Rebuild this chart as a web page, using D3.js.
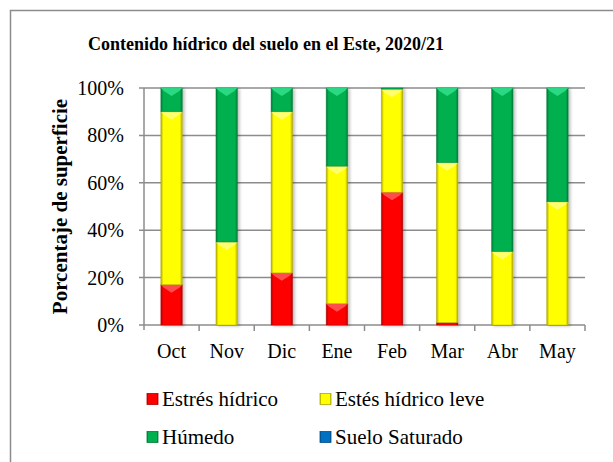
<!DOCTYPE html>
<html>
<head>
<meta charset="utf-8">
<script src="https://cdn.jsdelivr.net/npm/d3@7"></script>
<style>
  html, body { margin: 0; padding: 0; background: #fff; overflow: hidden; }
  svg { display: block; }
  text { font-family: "Liberation Serif", "Times New Roman", serif; fill: #000; }
</style>
</head>
<body>
<div id="chart"></div>
<script>
// data (percent of surface)
const months = ["Oct", "Nov", "Dic", "Ene", "Feb", "Mar", "Abr", "May"];
const estres = [17, 0, 22, 9, 56, 1, 0, 0];
const estresLeve = [73, 35, 68, 58, 43.5, 67.5, 31, 52];
const humedo = [10, 65, 10, 33, 0.5, 31.5, 69, 48];
const saturado = [0, 0, 0, 0, 0, 0, 0, 0];
const yTicks = [0, 20, 40, 60, 80, 100];

const seriesNames = ["Estrés hídrico", "Estés hídrico leve", "Húmedo", "Suelo Saturado"];
const seriesColors = ["#ff0000", "#ffff00", "#00b050", "#0070c0"];
const seriesLight = ["#ff5a5a", "#ffff80", "#33e08a", "#3fa0e8"];
const seriesDark = ["#b00000", "#b0a800", "#007a38", "#004f88"];

const width = 613, height = 462;
const margin = { top: 88, bottom: 137, left: 144, right: 28 };

const svg = d3.select("#chart").append("svg")
  .attr("width", width)
  .attr("height", height)
  .attr("font-family", "Liberation Serif, Times New Roman, serif");

// outer frame (right and bottom edges fall outside the picture)
svg.append("path")
  .attr("d", `M10.5,${height}V10.5H${width}`)
  .attr("fill", "none")
  .attr("stroke", "#8c8c8c")
  .attr("stroke-width", 1.5);

svg.append("text")
  .attr("x", 266).attr("y", 50)
  .attr("text-anchor", "middle")
  .attr("font-size", 18)
  .attr("font-weight", "bold")
  .text("Contenido hídrico del suelo en el Este, 2020/21");

const rows = months.map((m, i) => ({
  month: m,
  s0: estres[i], s1: estresLeve[i], s2: humedo[i], s3: saturado[i]
}));
const stacked = d3.stack().keys(["s0", "s1", "s2", "s3"])(rows);

const xScale = d3.scaleBand()
  .domain(months)
  .range([margin.left, width - margin.right])
  .paddingInner(0.61)
  .paddingOuter(0.305);

const yScale = d3.scaleLinear()
  .domain([0, 100])
  .range([height - margin.bottom, margin.top]);

// grid
svg.append("g")
  .selectAll("line")
  .data(yTicks)
  .join("line")
  .attr("x1", margin.left - 5)
  .attr("x2", width - margin.right)
  .attr("y1", d => yScale(d))
  .attr("y2", d => yScale(d))
  .attr("stroke", "#8c8c8c")
  .attr("stroke-width", 1.5);

// y axis line
svg.append("line")
  .attr("x1", margin.left).attr("x2", margin.left)
  .attr("y1", margin.top).attr("y2", yScale(0) + 5)
  .attr("stroke", "#8c8c8c").attr("stroke-width", 1.5);

// x ticks at category boundaries
const step = xScale.step();
const bounds = d3.range(months.length + 1).map(i => margin.left + i * step);
svg.append("g")
  .selectAll("line")
  .data(bounds.slice(1))
  .join("line")
  .attr("x1", d => d).attr("x2", d => d)
  .attr("y1", yScale(0)).attr("y2", yScale(0) + 6)
  .attr("stroke", "#8c8c8c").attr("stroke-width", 1.5);

// y tick labels
svg.append("g")
  .selectAll("text")
  .data(yTicks)
  .join("text")
  .attr("x", margin.left - 20)
  .attr("y", d => yScale(d) + 7)
  .attr("text-anchor", "end")
  .attr("font-size", 20)
  .text(d => d + "%");

// x labels
svg.append("g")
  .selectAll("text")
  .data(months)
  .join("text")
  .attr("x", d => xScale(d) + xScale.bandwidth() / 2)
  .attr("y", 358)
  .attr("text-anchor", "middle")
  .attr("font-size", 20)
  .text(d => d);

svg.append("text")
  .attr("transform", `translate(67,${(margin.top + yScale(0)) / 2}) rotate(-90)`)
  .attr("text-anchor", "middle")
  .attr("font-size", 21)
  .attr("font-weight", "bold")
  .text("Porcentaje de superficie");

// gradients for bars
const defs = svg.append("defs");
seriesColors.forEach((c, i) => {
  const g = defs.append("linearGradient").attr("id", "g" + i)
    .attr("x1", 0).attr("x2", 1).attr("y1", 0).attr("y2", 0);
  g.append("stop").attr("offset", "0%").attr("stop-color", seriesDark[i]);
  g.append("stop").attr("offset", "12%").attr("stop-color", c);
  g.append("stop").attr("offset", "88%").attr("stop-color", c);
  g.append("stop").attr("offset", "100%").attr("stop-color", seriesDark[i]);
});
const shadow = defs.append("filter").attr("id", "shadow")
  .attr("x", "-30%").attr("y", "-10%").attr("width", "160%").attr("height", "120%");
shadow.append("feDropShadow").attr("dx", 2).attr("dy", 1)
  .attr("stdDeviation", 1.5).attr("flood-color", "#000").attr("flood-opacity", 0.25);

// bars
const bw = xScale.bandwidth();
const layers = svg.append("g").attr("filter", "url(#shadow)")
  .selectAll("g")
  .data(stacked)
  .join("g");

layers.each(function (layer, li) {
  const g = d3.select(this);
  const segs = layer.filter(d => d[1] - d[0] > 0);
  g.selectAll("rect")
    .data(segs)
    .join("rect")
    .attr("x", d => xScale(d.data.month))
    .attr("y", d => yScale(d[1]))
    .attr("width", bw)
    .attr("height", d => yScale(d[0]) - yScale(d[1]))
    .attr("fill", `url(#g${li})`)
    .attr("stroke", seriesDark[li])
    .attr("stroke-opacity", 0.5)
    .attr("stroke-width", 0.8);
  // bevel highlight on top
  g.selectAll("path")
    .data(segs.filter(d => yScale(d[0]) - yScale(d[1]) > 6))
    .join("path")
    .attr("d", d => {
      const x0 = xScale(d.data.month), x1 = x0 + bw, y0 = yScale(d[1]);
      const xc = x0 + bw / 2;
      return `M${x0},${y0}L${x1},${y0}L${x1 - 3},${y0 + 3}L${xc},${y0 + 8}L${x0 + 3},${y0 + 3}Z`;
    })
    .attr("fill", seriesLight[li])
    .attr("opacity", 0.85);
});

// legend
const legendPos = [[147, 399], [320, 399], [147, 437], [320, 437]];
const legend = svg.append("g")
  .selectAll("g")
  .data(seriesNames)
  .join("g")
  .attr("transform", (d, i) => `translate(${legendPos[i][0]},${legendPos[i][1]})`);
legend.append("rect")
  .attr("x", 0).attr("y", -5.5)
  .attr("width", 11).attr("height", 11)
  .attr("fill", (d, i) => `url(#g${i})`)
  .attr("stroke", (d, i) => seriesDark[i])
  .attr("stroke-width", 0.8);
legend.append("text")
  .attr("x", 15)
  .attr("y", 7)
  .attr("font-size", 21)
  .text(d => d);
</script>
</body>
</html>
